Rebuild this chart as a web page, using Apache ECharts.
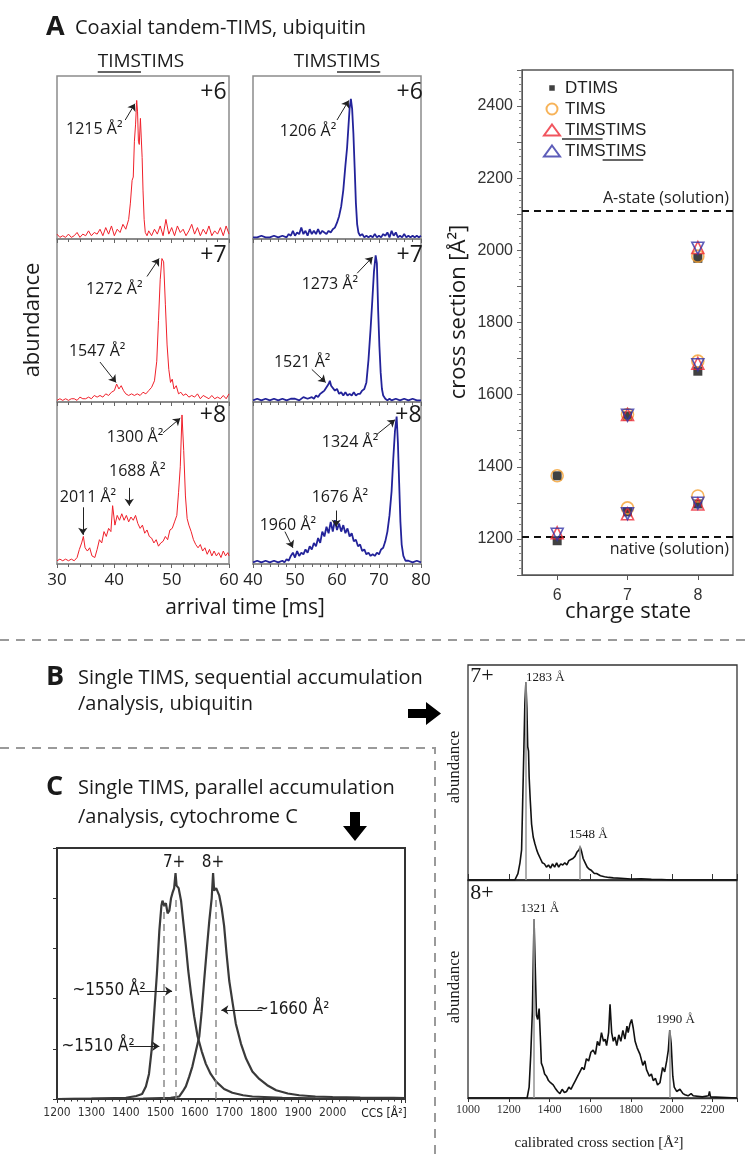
<!DOCTYPE html>
<html>
<head>
<meta charset="utf-8">
<script src="https://cdn.jsdelivr.net/npm/echarts@6.0.0/dist/echarts.min.js"></script>
<style>
  html, body { margin: 0; padding: 0; background: #fff; }
  #main { width: 747px; height: 1157px; }
</style>
</head>
<body>
<div id="main"></div>
<script>
// ---- panel A, arrival time spectra: [time ms, relative abundance] ----
const red6 = [[30,.03],[30.5,.01],[31,.02],[31.5,.01],[32,.03],[32.5,.01],[33,.02],[33.5,.04],[34,.01],[34.5,.03],[35,.02],[35.5,.05],[36,.02],[36.5,.04],[37,.03],[37.5,.06],[38,.02],[38.5,.07],[39,.03],[39.5,.08],[40,.02],[40.5,.06],[41,.04],[41.5,.09],[42,.06],[42.5,.12],[42.8,.22],[43.1,.36],[43.3,.38],[43.5,.6],[43.7,.7],[43.9,.85],[44.05,.78],[44.2,.6],[44.35,.58],[44.55,.74],[44.7,.62],[44.85,.5],[45.0,.3],[45.2,.12],[45.4,.04],[45.7,.02],[46,.05],[46.5,.02],[47,.06],[47.5,.03],[48,.08],[48.5,.02],[49,.12],[49.5,.03],[50,.07],[50.5,.02],[51,.08],[51.5,.04],[52,.06],[52.5,.02],[53,.05],[53.5,.09],[54,.03],[54.5,.07],[55,.02],[55.5,.06],[56,.03],[56.5,.08],[57,.02],[57.5,.05],[58,.03],[58.5,.07],[59,.02],[59.5,.08],[60,.03]];
const red7 = [[30,.01],[30.5,.02],[31,.01],[31.5,.02],[32,.01],[32.5,.02],[33,.02],[33.5,.01],[34,.03],[34.5,.02],[35,.02],[35.5,.03],[36,.02],[36.5,.04],[37,.03],[37.5,.04],[38,.03],[38.5,.05],[39,.04],[39.5,.06],[40,.07],[40.4,.11],[40.8,.08],[41.2,.1],[41.6,.07],[42,.05],[42.5,.04],[43,.05],[43.5,.04],[44,.05],[44.5,.04],[45,.06],[45.5,.05],[46,.07],[46.5,.09],[47,.13],[47.4,.25],[47.7,.5],[48,.75],[48.3,.88],[48.6,.86],[48.9,.6],[49.2,.35],[49.5,.2],[49.8,.12],[50.1,.14],[50.4,.08],[50.8,.1],[51.2,.05],[51.6,.06],[52,.04],[52.5,.05],[53,.03],[53.5,.04],[54,.03],[54.5,.05],[55,.02],[55.5,.04],[56,.03],[56.5,.02],[57,.04],[57.5,.02],[58,.03],[58.5,.02],[59,.04],[59.5,.02],[60,.05]];
const red8 = [[30,.02],[30.5,.03],[31,.02],[31.5,.03],[32,.02],[32.5,.03],[33,.02],[33.5,.04],[33.9,.09],[34.3,.13],[34.6,.17],[34.9,.1],[35.3,.08],[35.7,.1],[36.1,.05],[36.6,.04],[37,.09],[37.4,.15],[37.8,.13],[38.2,.2],[38.6,.17],[39,.22],[39.4,.2],[39.7,.36],[40.1,.24],[40.5,.3],[40.9,.27],[41.3,.31],[41.7,.27],[42.1,.3],[42.5,.26],[42.9,.29],[43.3,.27],[43.7,.3],[44.1,.25],[44.5,.22],[44.9,.24],[45.3,.19],[45.7,.21],[46.1,.17],[46.5,.16],[46.9,.13],[47.3,.15],[47.7,.11],[48.1,.13],[48.5,.14],[48.9,.17],[49.3,.15],[49.7,.21],[50.1,.22],[50.5,.26],[50.9,.3],[51.2,.44],[51.5,.6],[51.8,.92],[52.1,.7],[52.4,.42],[52.7,.28],[53,.24],[53.4,.2],[53.8,.15],[54.2,.12],[54.6,.1],[55,.12],[55.4,.08],[55.8,.1],[56.2,.06],[56.6,.09],[57,.05],[57.4,.08],[57.8,.05],[58.2,.07],[58.6,.04],[59,.08],[59.4,.05],[59.8,.07],[60,.05]];
const blue6 = [[40,.01],[41,.01],[42,.02],[43,.01],[44,.01],[45,.02],[46,.01],[47,.02],[48,.01],[48.5,.03],[49,.02],[49.5,.05],[50,.02],[50.5,.04],[51,.03],[51.5,.07],[52,.03],[52.5,.05],[53,.02],[53.5,.06],[54,.03],[54.5,.05],[55,.03],[55.5,.06],[56,.03],[56.5,.05],[57,.04],[57.5,.03],[58,.05],[58.5,.04],[59,.06],[59.5,.07],[60,.1],[60.5,.14],[61,.2],[61.5,.3],[62,.45],[62.4,.56],[62.7,.68],[63,.8],[63.3,.86],[63.6,.8],[63.9,.65],[64.2,.44],[64.5,.22],[64.8,.09],[65.1,.04],[65.5,.02],[66,.03],[66.5,.01],[67,.02],[67.5,.01],[68,.02],[68.5,.01],[69,.03],[69.5,.01],[70,.02],[70.5,.01],[71,.03],[71.5,.02],[72,.04],[72.5,.01],[73,.05],[73.5,.02],[74,.04],[74.5,.01],[75,.02],[75.5,.01],[76,.03],[76.5,.01],[77,.02],[77.5,.01],[78,.02],[78.5,.01],[79,.02],[79.5,.01],[80,.02]];
const blue7 = [[40,.01],[41,.02],[42,.01],[43,.02],[44,.01],[45,.02],[46,.01],[47,.02],[48,.01],[49,.02],[50,.02],[51,.01],[52,.03],[53,.02],[54,.03],[54.5,.02],[55,.04],[55.5,.03],[56,.05],[56.5,.06],[57,.07],[57.5,.09],[58,.11],[58.3,.13],[58.6,.1],[59,.09],[59.5,.07],[60,.08],[60.5,.05],[61,.06],[61.5,.04],[62,.06],[62.5,.04],[63,.05],[63.5,.04],[64,.06],[64.5,.04],[65,.05],[65.5,.05],[66,.07],[66.5,.08],[67,.12],[67.5,.26],[68,.45],[68.4,.62],[68.8,.8],[69.2,.9],[69.5,.85],[69.8,.56],[70.1,.34],[70.4,.18],[70.7,.08],[71,.04],[71.5,.02],[72,.01],[72.5,.02],[73,.01],[74,.02],[75,.01],[76,.02],[77,.01],[78,.02],[79,.01],[80,.01]];
const blue8 = [[40,.01],[41,.02],[42,.01],[43,.02],[44,.01],[45,.02],[46,.01],[47,.02],[47.5,.01],[48,.03],[48.5,.02],[49,.05],[49.5,.07],[50,.04],[50.5,.08],[51,.05],[51.5,.07],[52,.06],[52.5,.09],[53,.07],[53.5,.11],[54,.09],[54.5,.13],[55,.11],[55.5,.16],[56,.13],[56.5,.2],[57,.17],[57.5,.23],[58,.19],[58.5,.26],[59,.2],[59.5,.27],[60,.21],[60.5,.25],[61,.2],[61.5,.24],[62,.19],[62.5,.22],[63,.17],[63.5,.19],[64,.14],[64.5,.15],[65,.11],[65.5,.12],[66,.08],[66.5,.09],[67,.06],[67.5,.07],[68,.05],[68.5,.06],[69,.05],[69.5,.07],[70,.06],[70.5,.09],[71,.1],[71.5,.14],[72,.2],[72.5,.3],[73,.45],[73.4,.65],[73.8,.82],[74.2,.91],[74.5,.75],[74.8,.5],[75.1,.26],[75.4,.12],[75.8,.05],[76.3,.02],[77,.02],[78,.01],[79,.02],[80,.01]];

// ---- panel A, cross section vs charge state [charge, A^2] ----
const dtims      = [[6,1195],[6,1375],[7,1541],[7,1275],[8,1978],[8,1665],[8,1297]];
const tims       = [[6,1375],[7,1545],[7,1286],[8,1984],[8,1693],[8,1319]];
const timsFirst  = [[6,1217],[7,1545],[7,1270],[8,2008],[8,1687],[8,1297]];
const timsSecond = [[6,1213],[7,1543],[7,1270],[8,2006],[8,1683],[8,1299]];
const aState = 2110;
const nativeState = 1205;

// ---- panel B, calibrated cross section spectra [A^2, abundance] ----
const ubq7 = [[1000,0],[1230,0],[1245,.03],[1255,.08],[1263,.14],[1268,.35],[1274,.6],[1279,.82],[1284,.92],[1289,.8],[1293,.62],[1297,.6],[1300,.48],[1305,.38],[1312,.26],[1320,.2],[1328,.17],[1337,.14],[1345,.12],[1355,.1],[1365,.08],[1375,.075],[1385,.06],[1395,.07],[1405,.055],[1415,.075],[1425,.06],[1435,.08],[1445,.06],[1455,.075],[1465,.07],[1475,.08],[1485,.07],[1495,.09],[1505,.095],[1515,.1],[1525,.11],[1535,.13],[1545,.14],[1550,.155],[1558,.13],[1565,.1],[1575,.08],[1585,.06],[1595,.05],[1605,.045],[1620,.03],[1631,.03],[1650,.02],[1670,.015],[1690,.012],[1713,.01],[1750,.008],[1800,.005],[1850,.006],[1900,.003],[1950,.002],[2000,0],[2320,0]];
const ubq8 = [[1000,0],[1290,0],[1300,.05],[1308,.2],[1316,.4],[1324,.82],[1330,.6],[1336,.38],[1342,.36],[1349,.41],[1355,.28],[1360,.16],[1368,.14],[1376,.11],[1385,.1],[1395,.08],[1405,.07],[1418,.06],[1428,.045],[1440,.03],[1451,.02],[1462,.04],[1473,.025],[1484,.03],[1495,.05],[1505,.04],[1516,.06],[1527,.08],[1538,.1],[1549,.12],[1560,.14],[1570,.13],[1581,.18],[1592,.17],[1603,.21],[1614,.22],[1625,.2],[1635,.26],[1645,.24],[1655,.3],[1665,.26],[1673,.27],[1680,.24],[1690,.3],[1697,.43],[1705,.3],[1713,.26],[1721,.28],[1730,.24],[1740,.29],[1750,.26],[1760,.31],[1770,.27],[1780,.33],[1786,.3],[1795,.34],[1803,.36],[1811,.32],[1820,.26],[1830,.23],[1844,.2],[1858,.15],[1868,.17],[1876,.13],[1890,.1],[1900,.11],[1909,.08],[1920,.09],[1930,.06],[1942,.07],[1955,.14],[1965,.12],[1975,.17],[1983,.22],[1990,.31],[1997,.25],[2005,.1],[2012,.05],[2024,.03],[2040,.04],[2055,.02],[2065,.015],[2080,.01],[2095,.02],[2105,.01],[2150,.005],[2180,.01],[2185,.03],[2190,.005],[2320,0]];
const ubqPeaks7 = [[1283,.92],[1548,.16]];
const ubqPeaks8 = [[1321,.82],[1990,.31]];

// ---- panel C, cytochrome c [CCS A^2, abundance] ----
const cyt7 = [[1200,0],[1300,.002],[1400,.005],[1430,.012],[1447,.02],[1458,.05],[1467,.1],[1475,.2],[1482,.34],[1490,.5],[1497,.67],[1503,.77],[1506,.79],[1511,.77],[1516,.78],[1521,.74],[1526,.75],[1531,.8],[1535,.82],[1540,.84],[1544,.9],[1547,.85],[1553,.84],[1560,.79],[1567,.7],[1574,.61],[1581,.51],[1589,.42],[1598,.33],[1608,.25],[1620,.19],[1632,.14],[1646,.1],[1661,.07],[1685,.04],[1709,.025],[1740,.015],[1767,.01],[1854,.005],[1950,.003],[2100,.002],[2210,.002]];
const cyt8 = [[1200,0],[1450,.002],[1530,.005],[1555,.01],[1565,.03],[1574,.05],[1584,.09],[1593,.13],[1603,.19],[1613,.25],[1620,.35],[1627,.47],[1635,.6],[1642,.71],[1649,.8],[1653,.9],[1656,.83],[1662,.84],[1671,.81],[1678,.76],[1685,.69],[1692,.58],[1700,.47],[1710,.38],[1719,.3],[1734,.22],[1749,.16],[1767,.11],[1787,.08],[1810,.055],[1836,.035],[1870,.022],[1903,.015],[1950,.01],[2000,.008],[2080,.006],[2177,.005],[2210,.004]];
const cytMarks = [[1510,.77],[1545,.8],[1660,.8]];

// fonts
const SANS = "'Open Sans', 'Noto Sans', sans-serif";
const ARIAL = "'Liberation Sans', Arial, sans-serif";
const NARROW = "'Liberation Sans Narrow', 'DejaVu Sans Condensed', sans-serif";
const SERIF = "'Liberation Serif', 'Times New Roman', serif";

// annotations (data coords of text centre, optional arrow tail->tip)
const notesRed6 = [{t:'+6', at:[57.3,.9], big:true}, {t:'1215 Å²', at:[36.5,.67], arrow:[[41.9,.73],[43.6,.83]]}];
const notesRed7 = [{t:'+7', at:[57.3,.9], big:true}, {t:'1272 Å²', at:[40,.69], arrow:[[45.7,.77],[47.8,.88]]},
                   {t:'1547 Å²', at:[37,.31], arrow:[[37.5,.245],[40.3,.12]]}];
const notesRed8 = [{t:'+8', at:[57.2,.92], big:true}, {t:'1300 Å²', at:[43.6,.78], arrow:[[48.5,.81],[51.5,.9]]},
                   {t:'1688 Å²', at:[44,.57], arrow:[[42.6,.47],[42.6,.36]]},
                   {t:'2011 Å²', at:[35.4,.41], arrow:[[34.5,.35],[34.5,.18]]}];
const notesBlue6 = [{t:'+6', at:[77.3,.9], big:true}, {t:'1206 Å²', at:[53.1,.66], arrow:[[60,.73],[62.8,.85]]}];
const notesBlue7 = [{t:'+7', at:[77.3,.9], big:true}, {t:'1273 Å²', at:[58.3,.72], arrow:[[64.8,.79],[68.5,.89]]},
                    {t:'1521 Å²', at:[51.7,.24], arrow:[[54,.2],[57.3,.12]]}];
const notesBlue8 = [{t:'+8', at:[77,.92], big:true}, {t:'1324 Å²', at:[63.1,.75], arrow:[[69.5,.8],[73.8,.89]]},
                    {t:'1676 Å²', at:[60.7,.41], arrow:[[59.8,.33],[59.8,.23]]},
                    {t:'1960 Å²', at:[48.3,.24], arrow:[[47.6,.2],[49.5,.1]]}];
const notesCyt = [{t:'7+', at:[1540,.94]}, {t:'8+', at:[1653,.94]},
                  {t:'~1550 Å²', at:[1351,.43], arrow:[[1440,.43],[1534,.43]]},
                  {t:'~1510 Å²', at:[1319,.21], arrow:[[1410,.21],[1497,.21]]},
                  {t:'~1660 Å²', at:[1884,.355], arrow:[[1796,.355],[1677,.355]]}];
const notesUbq7 = [{t:'7+', at:[1069,.95], big:true}, {t:'1283 Å', at:[1380,.94]}, {t:'1548 Å', at:[1590,.21]}];
const notesUbq8 = [{t:'8+', at:[1069,.94], big:true}, {t:'1321 Å', at:[1353,.87]}, {t:'1990 Å', at:[2019,.36]}];

function textMarks(list, family, size, big) {
  return {
    silent: true, animation: false,
    data: list.map(n => ({
      coord: n.at, symbol: 'circle', symbolSize: 1, itemStyle: {color: 'rgba(0,0,0,0)'},
      label: {show: true, position: 'inside', formatter: n.t, fontFamily: family,
              fontSize: n.big ? big : size, color: '#1a1a1a'}
    }))
  };
}
function arrowMarks(list) {
  return {
    silent: true, animation: false, symbol: ['none', 'arrow'], symbolSize: 7,
    label: {show: false}, lineStyle: {color: '#222', width: 1, type: 'solid'},
    data: list.filter(n => n.arrow).map(n => [{coord: n.arrow[0]}, {coord: n.arrow[1]}])
  };
}

const grids = [
  {left: 57, top: 76, width: 172, height: 163},
  {left: 57, top: 239, width: 172, height: 163},
  {left: 57, top: 402, width: 172, height: 162},
  {left: 253, top: 76, width: 168, height: 163},
  {left: 253, top: 239, width: 168, height: 163},
  {left: 253, top: 402, width: 168, height: 162},
  {left: 522, top: 70, width: 211, height: 505},
  {left: 57, top: 848, width: 348, height: 251},
  {left: 468, top: 665, width: 269, height: 215},
  {left: 468, top: 880, width: 269, height: 218}
].map((g, i) => Object.assign({
  show: true, containLabel: false, outerBoundsMode: 'none',
  borderColor: i < 6 ? '#8c8c8c' : (i === 6 ? '#555' : '#333'),
  borderWidth: i < 6 ? 1.5 : (i === 7 ? 2 : 1.3)
}, g));

function timeAxis(grid, min, max, labels) {
  return {
    type: 'value', gridIndex: grid, min, max, interval: 10,
    axisLine: {show: true, lineStyle: {color: '#888', width: 1.5}},
    axisTick: {show: true, length: 4, lineStyle: {color: '#666'}},
    minorTick: {show: true, splitNumber: 5, length: 3, lineStyle: {color: '#666'}},
    axisLabel: {show: labels, fontFamily: SANS, fontSize: 17, color: '#222', margin: 8},
    splitLine: {show: false}
  };
}
function hiddenY(grid, max) {
  return {type: 'value', gridIndex: grid, min: 0, max: max, show: false, splitLine: {show: false}};
}

const xAxes = [
  timeAxis(0, 30, 60, false), timeAxis(1, 30, 60, false), timeAxis(2, 30, 60, true),
  timeAxis(3, 40, 80, false), timeAxis(4, 40, 80, false), timeAxis(5, 40, 80, true),
  {
    type: 'value', gridIndex: 6, min: 5.5, max: 8.5,
    axisLine: {lineStyle: {color: '#555'}},
    axisTick: {customValues: [6, 7, 8], length: 5, lineStyle: {color: '#555'}},
    axisLabel: {customValues: [6, 7, 8], fontFamily: ARIAL, fontSize: 16, color: '#333', margin: 13},
    splitLine: {show: false}
  },
  {
    type: 'value', gridIndex: 7, min: 1200, max: 2210, interval: 100,
    axisLine: {lineStyle: {color: '#333', width: 2}},
    axisTick: {length: 4, lineStyle: {color: '#333'}},
    minorTick: {show: true, splitNumber: 5, length: 2.5, lineStyle: {color: '#333'}},
    axisLabel: {formatter: v => (v <= 2000 ? String(v) : ''), fontFamily: NARROW, fontSize: 12, color: '#333', margin: 8},
    splitLine: {show: false}
  },
  {
    type: 'value', gridIndex: 8, min: 1000, max: 2320, interval: 200,
    axisLine: {lineStyle: {color: '#333', width: 1.3}},
    axisTick: {inside: true, length: 6, lineStyle: {color: '#333'}},
    axisLabel: {show: false}, splitLine: {show: false}
  },
  {
    type: 'value', gridIndex: 9, min: 1000, max: 2320, interval: 200,
    axisLine: {lineStyle: {color: '#333', width: 1.3}},
    axisTick: {length: 4, lineStyle: {color: '#333'}},
    axisLabel: {formatter: v => (v <= 2200 ? String(v) : ''), fontFamily: SERIF, fontSize: 12, color: '#333', margin: 6},
    splitLine: {show: false}
  }
];

const yAxes = [
  hiddenY(0, 1), hiddenY(1, 1), hiddenY(2, 1), hiddenY(3, 1), hiddenY(4, 1), hiddenY(5, 1),
  {
    type: 'value', gridIndex: 6, min: 1100, max: 2500, interval: 100,
    axisLine: {show: true, lineStyle: {color: '#555'}},
    axisTick: {show: true, length: 5, lineStyle: {color: '#666'}},
    minorTick: {show: true, splitNumber: 5, length: 3, lineStyle: {color: '#888'}},
    axisLabel: {formatter: v => (v % 200 === 0 ? String(v) : ''), fontFamily: ARIAL, fontSize: 16, color: '#333', margin: 9},
    splitLine: {show: false}
  },
  {
    type: 'value', gridIndex: 7, min: 0, max: 1, interval: 0.2,
    axisLine: {show: true, lineStyle: {color: '#333', width: 2}},
    axisTick: {show: true, length: 4, lineStyle: {color: '#333'}},
    axisLabel: {show: false}, splitLine: {show: false}
  },
  hiddenY(8, 1), hiddenY(9, 1)
];

function spectrum(i, data, color, width, notes, family, size, big) {
  return {
    type: 'line', xAxisIndex: i, yAxisIndex: i, data, symbol: 'none', silent: true,
    lineStyle: {color, width}, z: 3,
    markPoint: textMarks(notes, family, size, big),
    markLine: arrowMarks(notes)
  };
}

const RED = '#f0202a', BLUE = '#23239a';
const series = [
  spectrum(0, red6, RED, 1, notesRed6, SANS, 16, 23),
  spectrum(1, red7, RED, 1, notesRed7, SANS, 16, 23),
  spectrum(2, red8, RED, 1, notesRed8, SANS, 16, 23),
  spectrum(3, blue6, BLUE, 1.8, notesBlue6, SANS, 16, 23),
  spectrum(4, blue7, BLUE, 1.8, notesBlue7, SANS, 16, 23),
  spectrum(5, blue8, BLUE, 1.8, notesBlue8, SANS, 16, 23),
  {
    type: 'scatter', name: 'DTIMS', xAxisIndex: 6, yAxisIndex: 6, data: dtims,
    symbol: 'rect', symbolSize: 9, itemStyle: {color: '#111'}, z: 3,
    markLine: {
      silent: true, animation: false, symbol: 'none',
      lineStyle: {color: '#111', width: 2, type: [7, 5]},
      label: {show: true, fontFamily: SANS, fontSize: 16, color: '#222', distance: 4},
      data: [
        {yAxis: aState, label: {formatter: 'A-state (solution)', position: 'insideEndTop'}},
        {yAxis: nativeState, label: {formatter: 'native (solution)', position: 'insideEndBottom'}}
      ]
    }
  },
  {
    type: 'scatter', name: 'TIMS', xAxisIndex: 6, yAxisIndex: 6, data: tims,
    symbol: 'circle', symbolSize: 12, z: 4,
    itemStyle: {color: 'rgba(255,255,255,0)', borderColor: '#f5a030', borderWidth: 1.6}
  },
  {
    type: 'scatter', name: 'TIMSTIMS-1', xAxisIndex: 6, yAxisIndex: 6, data: timsFirst,
    symbol: 'triangle', symbolSize: 12, z: 5,
    itemStyle: {color: 'rgba(255,255,255,0)', borderColor: '#ee2a36', borderWidth: 1.6}
  },
  {
    type: 'scatter', name: 'TIMSTIMS-2', xAxisIndex: 6, yAxisIndex: 6, data: timsSecond,
    symbol: 'triangle', symbolRotate: 180, symbolSize: 12, z: 6,
    itemStyle: {color: 'rgba(255,255,255,0)', borderColor: '#3434a8', borderWidth: 1.6}
  },
  {
    type: 'line', xAxisIndex: 7, yAxisIndex: 7, data: cyt7, symbol: 'none', silent: true,
    lineStyle: {color: '#3a3a3a', width: 2.2}, z: 3,
    markPoint: textMarks(notesCyt, NARROW, 17, 17),
    markLine: arrowMarks(notesCyt)
  },
  {
    type: 'line', xAxisIndex: 7, yAxisIndex: 7, data: cyt8, symbol: 'none', silent: true,
    lineStyle: {color: '#3a3a3a', width: 2.2}, z: 3,
    markLine: {
      silent: true, animation: false, symbol: 'none', label: {show: false},
      lineStyle: {color: '#8a8a8a', width: 1.5, type: [7, 5]},
      data: cytMarks.map(p => [{coord: [p[0], 0]}, {coord: p}])
    }
  },
  {
    type: 'line', xAxisIndex: 8, yAxisIndex: 8, data: ubq7, symbol: 'none', silent: true,
    lineStyle: {color: '#111', width: 1.6}, z: 3,
    markPoint: textMarks(notesUbq7, SERIF, 13, 22),
    markLine: {
      silent: true, animation: false, symbol: 'none', label: {show: false},
      lineStyle: {color: '#9a9a9a', width: 1.6, type: 'solid'},
      data: ubqPeaks7.map(p => [{coord: [p[0], 0]}, {coord: p}])
    }
  },
  {
    type: 'line', xAxisIndex: 9, yAxisIndex: 9, data: ubq8, symbol: 'none', silent: true,
    lineStyle: {color: '#111', width: 1.6}, z: 3,
    markPoint: textMarks(notesUbq8, SERIF, 13, 22),
    markLine: {
      silent: true, animation: false, symbol: 'none', label: {show: false},
      lineStyle: {color: '#9a9a9a', width: 1.6, type: 'solid'},
      data: ubqPeaks8.map(p => [{coord: [p[0], 0]}, {coord: p}])
    }
  }
];

// text measurement for the partial underlines
const measureCtx = document.createElement('canvas').getContext('2d');
function textWidth(s, font) { measureCtx.font = font; return measureCtx.measureText(s).width; }

function txt(x, y, text, font, extra) {
  return Object.assign({
    type: 'text', x, y, silent: true, z: 10,
    style: {text, font, fill: '#1a1a1a', align: 'center', verticalAlign: 'middle'}
  }, extra || {});
}
function leftTxt(x, y, text, font) {
  const t = txt(x, y, text, font);
  t.style.align = 'left';
  return t;
}
function uline(x1, x2, y) {
  return {type: 'line', silent: true, z: 10, shape: {x1, y1: y, x2, y2: y}, style: {stroke: '#333', lineWidth: 1.3}};
}

const headFont = `19px ${SANS}`;
const headW = textWidth('TIMSTIMS', headFont);
const halfW = textWidth('TIMS', headFont);
const h1 = 141 - headW / 2, h2 = 337 - headW / 2;

const legendLeft = 538, legendIconW = 16, legendTop = 73, legendRow = 21;
const legendFont = `17px ${ARIAL}`;
const legTextX = legendLeft + legendIconW + 8;
const legHalf = textWidth('TIMS', legendFont);
const legFull = textWidth('TIMSTIMS', legendFont);
const underY = i => legendTop + legendRow * i + 24;

const dash = {stroke: '#9a9a9a', lineWidth: 2, lineDash: [9, 7], fill: null};

const graphics = [
  // section separators
  {type: 'line', silent: true, shape: {x1: 0, y1: 640, x2: 747, y2: 640}, style: dash},
  {type: 'polyline', silent: true, shape: {points: [[0, 748], [435, 748], [435, 1157]]}, style: dash},
  // titles
  leftTxt(46, 27, 'A', `bold 27px ${SANS}`),
  leftTxt(75, 28, 'Coaxial tandem-TIMS, ubiquitin', `20px ${SANS}`),
  txt(141, 62, 'TIMSTIMS', headFont), uline(h1, h1 + halfW, 72),
  txt(337, 62, 'TIMSTIMS', headFont), uline(h2 + halfW, h2 + headW, 72),
  txt(33, 320, 'abundance', `22px ${SANS}`, {rotation: Math.PI / 2}),
  txt(245, 608, 'arrival time [ms]', `21px ${SANS}`),
  txt(459, 312, 'cross section [Å²]', `22px ${SANS}`, {rotation: Math.PI / 2}),
  txt(628, 612, 'charge state', `22px ${SANS}`),
  uline(legTextX, legTextX + legHalf, underY(2)),
  uline(legTextX + legHalf, legTextX + legFull, underY(3)),
  leftTxt(46, 677, 'B', `bold 27px ${SANS}`),
  leftTxt(78, 678, 'Single TIMS, sequential accumulation', `20px ${SANS}`),
  leftTxt(78, 704, '/analysis, ubiquitin', `20px ${SANS}`),
  leftTxt(46, 787, 'C', `bold 27px ${SANS}`),
  leftTxt(78, 788, 'Single TIMS, parallel accumulation', `20px ${SANS}`),
  leftTxt(78, 817, '/analysis, cytochrome C', `20px ${SANS}`),
  // block arrows
  {type: 'polygon', silent: true, shape: {points: [[408, 709], [426, 709], [426, 702], [441, 713.5], [426, 725], [426, 718], [408, 718]]}, style: {fill: '#000'}},
  {type: 'polygon', silent: true, shape: {points: [[350, 812], [360, 812], [360, 826], [367, 826], [355, 841], [343, 826], [350, 826]]}, style: {fill: '#000'}},
  // panel B / C axis names
  txt(384, 1114, 'CCS [Å²]', `12px ${NARROW}`),
  txt(455, 767, 'abundance', `17px ${SERIF}`, {rotation: Math.PI / 2}),
  txt(455, 987, 'abundance', `17px ${SERIF}`, {rotation: Math.PI / 2}),
  txt(599, 1143, 'calibrated cross section [Å²]', `15px ${SERIF}`)
];

const chart = echarts.init(document.getElementById('main'), null, {renderer: 'canvas'});
chart.setOption({
  animation: false,
  backgroundColor: '#fff',
  grid: grids,
  xAxis: xAxes,
  yAxis: yAxes,
  legend: {
    show: true, orient: 'vertical', left: legendLeft, top: legendTop,
    itemWidth: legendIconW, itemHeight: 11, itemGap: 1, selectedMode: false,
    textStyle: {fontFamily: ARIAL, fontSize: 17, color: '#222', lineHeight: 20},
    formatter: n => (n.indexOf('TIMSTIMS') === 0 ? 'TIMSTIMS' : n),
    data: [
      {name: 'DTIMS', icon: 'path://M0,0L0.01,0M3,3L9,3L9,9L3,9ZM12,12L11.99,12'},
      'TIMS', 'TIMSTIMS-1', 'TIMSTIMS-2'
    ]
  },
  series: series,
  graphic: graphics
});
</script>
</body>
</html>
